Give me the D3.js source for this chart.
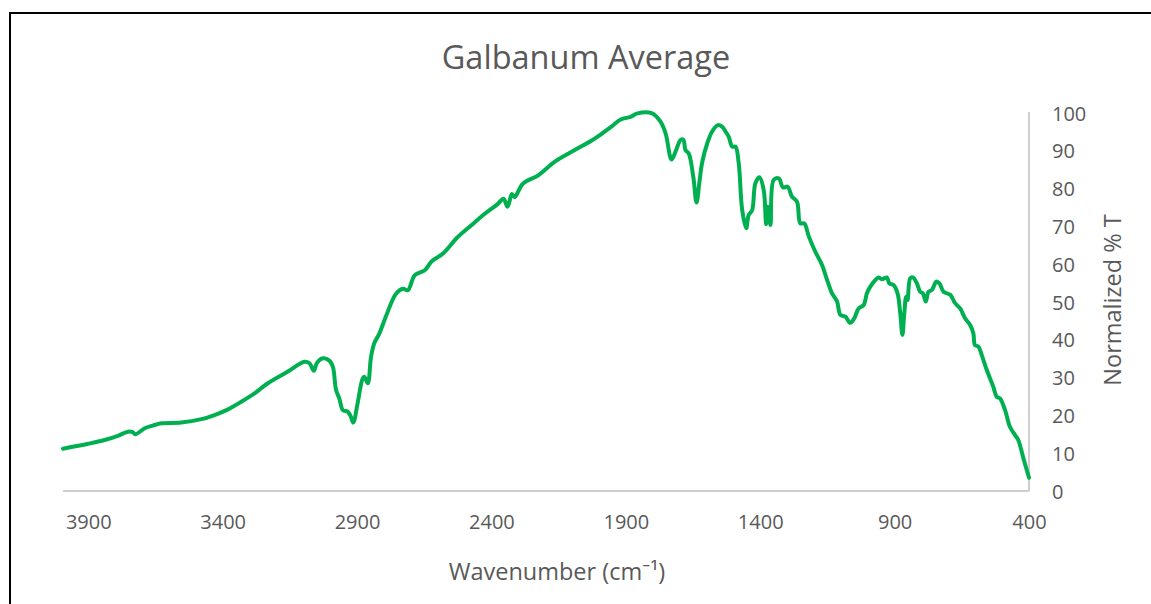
<!DOCTYPE html>
<html><head><meta charset="utf-8">
<script src="https://cdn.jsdelivr.net/npm/d3@7"></script>
<style>
html,body{margin:0;padding:0;background:#fff;}
text{font-family:"Open Sans","Noto Sans",sans-serif;fill:#595959;}
</style></head>
<body><svg id="chart" width="1151" height="604"></svg>
<script>
const wavenumber = [3994,3900,3839,3790,3752,3735,3725,3690,3660,3628,3554,3479,3430,3380,3331,3280,3232,3157,3096,3077,3061,3049,3027,3003,2990,2978,2966,2953,2935,2924,2914,2898,2879,2873,2860,2848,2836,2818,2792,2755,2729,2711,2685,2648,2623,2579,2528,2478,2427,2377,2355,2340,2324,2314,2283,2226,2163,2100,2030,1994,1950,1919,1882,1857,1802,1771,1752,1730,1715,1696,1686,1678,1666,1649,1637,1626,1616,1597,1579,1558,1542,1529,1517,1504,1492,1480,1467,1452,1443,1430,1418,1403,1387,1378,1372,1362,1350,1331,1315,1298,1282,1263,1251,1236,1220,1195,1170,1151,1133,1114,1102,1083,1065,1050,1034,1015,1003,991,972,960,947,929,919,904,889,879,871,864,857,852,842,832,817,805,795,784,774,761,745,733,718,693,675,656,638,619,607,601,588,576,557,533,520,508,489,471,452,440,421,400];
const transmittance = [11.2,12.5,13.5,14.6,15.7,15.6,15.0,16.6,17.3,17.9,18.1,19.0,20.1,21.6,23.6,25.9,28.5,31.6,34.2,33.8,31.8,33.9,35.1,34.5,32.9,26.7,24.5,21.4,21.0,19.8,18.1,23.2,29.8,30.2,28.5,35.5,39.1,41.5,46.3,52.2,53.5,53.1,57.1,58.4,60.7,62.9,67.0,70.1,73.2,75.9,77.3,75.2,78.6,77.7,81.3,83.5,87.2,89.8,92.6,94.3,96.6,98.3,99.0,99.9,99.9,97.7,94.6,87.7,89.8,92.9,92.9,90.2,89.3,83.1,76.3,81.8,86.9,92.0,95.1,96.8,96.4,95.1,93.7,91.1,91.1,86.7,74.3,69.5,73.0,74.3,81.4,83.0,79.6,70.6,75.2,70.4,82.3,82.7,80.3,80.5,77.9,76.5,70.8,70.8,67.5,63.3,59.8,55.8,52.3,50.1,46.6,46.1,44.5,45.7,48.3,49.2,52.3,54.0,55.8,56.5,56.0,56.5,54.9,54.5,52.3,47.0,41.3,47.0,51.4,50.5,56.3,56.5,54.9,52.7,52.3,50.1,52.7,53.2,55.4,54.9,52.7,51.9,49.7,48.3,45.7,43.9,41.7,38.6,38.2,36.0,32.0,27.6,24.9,24.5,21.4,17.0,14.8,13.5,8.7,3.5];
const xTicks = [3900,3400,2900,2400,1900,1400,900,400];
const yTicks = [0,10,20,30,40,50,60,70,80,90,100];
const title = "Galbanum Average";
const xTitle = "Wavenumber (cm⁻¹)";
const yTitle = "Normalized % T";

const svg = d3.select("#chart");
svg.append("rect").attr("x",0).attr("y",0).attr("width",1151).attr("height",604).attr("fill","#fff");
svg.append("rect").attr("x",10).attr("y",13).attr("width",1300).attr("height",800)
  .attr("fill","none").attr("stroke","#000").attr("stroke-width",2);

const plotL = 63, plotR = 1029, plotT = 113, plotB = 491;
const x = d3.scaleLinear().domain([3994,400]).range([plotL,plotR]);
const y = d3.scaleLinear().domain([0,100]).range([plotB,plotT]);

// axes lines
svg.append("line").attr("x1",plotL).attr("x2",plotR).attr("y1",plotB).attr("y2",plotB)
  .attr("stroke","#bfbfbf").attr("stroke-width",1.5);
svg.append("line").attr("x1",plotR).attr("x2",plotR).attr("y1",plotT-1).attr("y2",plotB)
  .attr("stroke","#bfbfbf").attr("stroke-width",1.5);

// x tick labels
const xAxis = d3.axisBottom(x).tickValues(xTicks).tickSize(0).tickPadding(0).tickFormat(d3.format("d"));
const gx = svg.append("g").attr("transform",`translate(0,${plotB})`).call(xAxis);
gx.select(".domain").remove();
gx.selectAll("text").attr("y",31).attr("dy","0.35em").attr("font-size","20px").attr("fill","#595959")
  .style("font-family",'"Open Sans",sans-serif');

// y tick labels (right)
const yAxis = d3.axisRight(y).tickValues(yTicks).tickSize(0).tickPadding(0);
const gy = svg.append("g").attr("transform",`translate(${plotR},0)`).call(yAxis);
gy.select(".domain").remove();
gy.selectAll("text").attr("x",23).attr("dy","0.35em").attr("font-size","20px").attr("fill","#595959")
  .attr("text-anchor","start").style("font-family",'"Open Sans",sans-serif');

// line
const data = wavenumber.map((w,i)=>({w, t: transmittance[i]}));
const line = d3.line().x(d=>x(d.w)).y(d=>y(d.t)).curve(d3.curveCatmullRom.alpha(0.5));
svg.append("path").datum(data).attr("d",line).attr("fill","none")
  .attr("stroke","#00b050").attr("stroke-width",4).attr("stroke-linejoin","round").attr("stroke-linecap","round");

// titles
svg.append("text").attr("x",586).attr("y",58).attr("dy","0.35em").attr("text-anchor","middle")
  .attr("font-size","32.5px").text(title);
svg.append("text").attr("x",557).attr("y",572).attr("dy","0.35em").attr("text-anchor","middle")
  .attr("font-size","23.5px").text(xTitle);
svg.append("text").attr("transform","translate(1113,300) rotate(-90)").attr("dy","0.35em")
  .attr("text-anchor","middle").attr("font-size","23.5px").text(yTitle);
</script></body></html>
